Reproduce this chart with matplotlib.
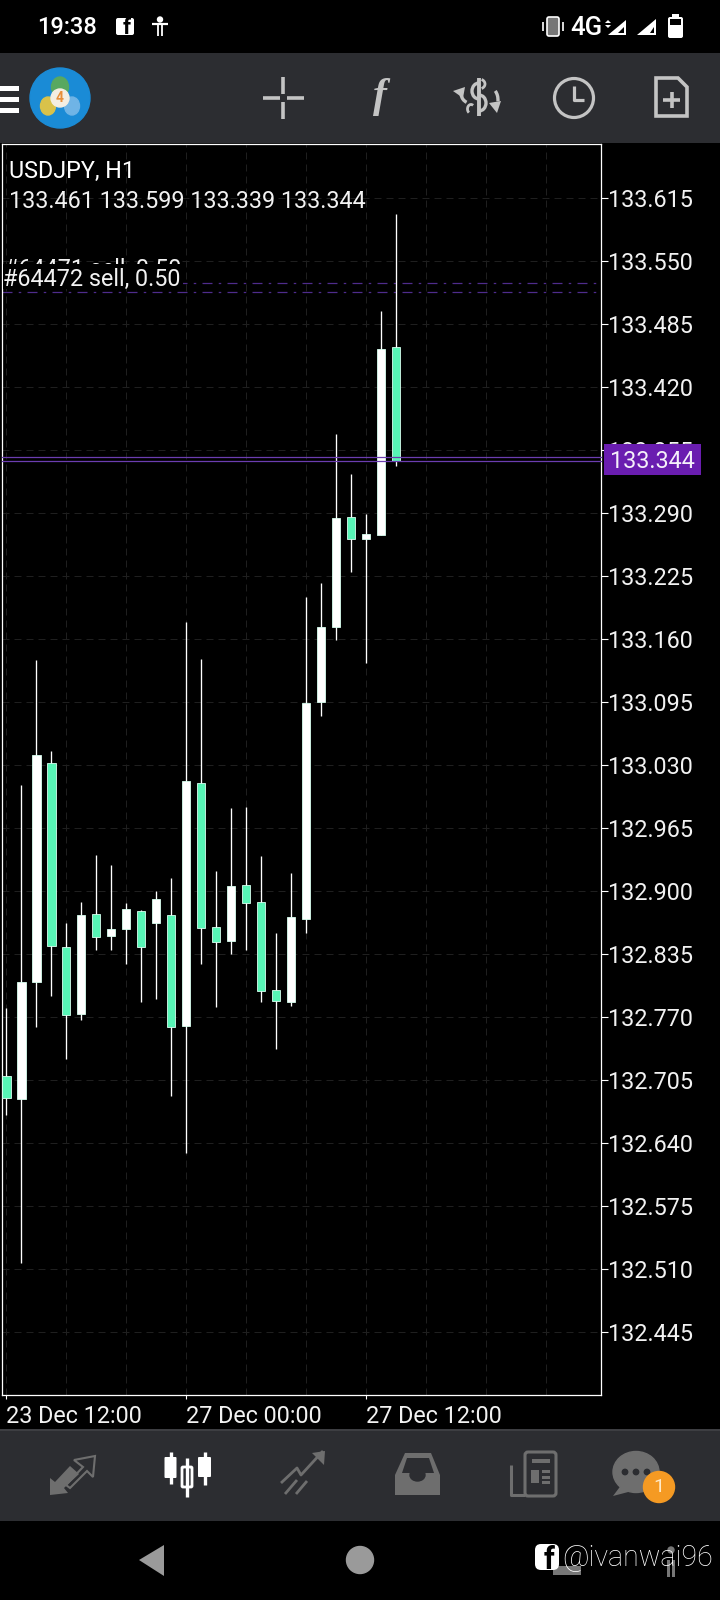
import matplotlib
matplotlib.use("Agg")
import matplotlib.pyplot as plt
from matplotlib.patches import Rectangle, Circle, Polygon, FancyBboxPatch, Arc, Ellipse

plt.rcParams['font.family'] = ['Roboto', 'DejaVu Sans']

# USDJPY H1 candles
opens = [132.709, 132.685, 132.806, 133.032, 132.842, 132.773, 132.876, 132.854, 132.861,
         132.879, 132.867, 132.875, 132.761, 133.012, 132.863, 132.849, 132.906, 132.889,
         132.798, 132.786, 132.871, 133.095, 133.173, 133.286, 133.263, 133.267, 133.461]
highs = [132.779, 133.010, 133.139, 133.045, 132.867, 132.889, 132.937, 132.927, 132.888,
         132.881, 132.900, 132.914, 133.178, 133.140, 132.921, 132.986, 132.987, 132.936,
         132.857, 132.919, 133.203, 133.218, 133.372, 133.330, 133.289, 133.499, 133.599]
lows = [132.669, 132.516, 132.760, 132.792, 132.727, 132.767, 132.839, 132.839, 132.825,
        132.786, 132.789, 132.689, 132.630, 132.825, 132.780, 132.835, 132.839, 132.786,
        132.737, 132.781, 132.857, 133.081, 133.159, 133.229, 133.135, 133.267, 133.339]
closes = [132.686, 132.806, 133.040, 132.843, 132.772, 132.875, 132.853, 132.861, 132.882,
          132.842, 132.892, 132.760, 133.014, 132.862, 132.848, 132.905, 132.888, 132.797,
          132.787, 132.873, 133.094, 133.173, 133.285, 133.263, 133.269, 133.459, 133.344]

price_ticks = [133.615, 133.550, 133.485, 133.420, 133.355, 133.290, 133.225, 133.160, 133.095,
               133.030, 132.965, 132.900, 132.835, 132.770, 132.705, 132.640, 132.575, 132.510,
               132.445]
date_ticks = [-0.05, 11.95, 23.95]
date_labels = ["23 Dec 12:00", "27 Dec 00:00", "27 Dec 12:00"]
grid_ticks = [3.95, 7.95, 15.95, 19.95, 27.95, 31.95, 35.95]
order_prices = [133.528, 133.518]
bid_lines = [133.348, 133.344]

W, H = 720, 1600
BAR = '#2c2d31'
ICON = '#c4c4c4'
GREY = '#6e6e6e'
GREEN = '#57f5b6'
PURPLE = '#6a1db0'
FS = 16.8

fig = plt.figure(figsize=(W / 100, H / 100), dpi=100, facecolor='black')

# whole screen axes in pixels, for the phone chrome around the chart
ui = fig.add_axes([0, 0, 1, 1])
ui.set_xlim(0, W)
ui.set_ylim(H, 0)
ui.axis('off')


def rect(x0, y0, x1, y1, color, **kw):
    ui.add_patch(Rectangle((x0, y0), x1 - x0, y1 - y0, facecolor=color, edgecolor='none', **kw))


def rrect(x0, y0, x1, y1, r, face, edge='none', lw=0):
    ui.add_patch(FancyBboxPatch((x0 + r, y0 + r), x1 - x0 - 2 * r, y1 - y0 - 2 * r,
                                boxstyle="round,pad=%f,rounding_size=%f" % (r, r),
                                facecolor=face, edgecolor=edge, linewidth=lw))


def line(xs, ys, color, lw=2.0):
    ui.plot(xs, ys, color=color, lw=lw, solid_capstyle='butt')


def poly(points, color):
    ui.add_patch(Polygon(points, closed=True, facecolor=color, edgecolor='none'))


# status bar
ui.text(37, 27, "19:38", color='white', fontsize=17, fontweight='medium', va='center')
rrect(116, 18, 134, 35, 2, 'white')
ui.text(127, 28, "f", color='black', fontsize=16, fontweight='bold', ha='center', va='center')
ui.add_patch(Circle((160, 19.5), 2.5, color='white'))
line([152, 168], [24, 24], 'white', 1.6)
line([158, 158], [24, 36], 'white', 1.3)
line([162, 162], [24, 36], 'white', 1.3)
rrect(547, 17, 559, 36, 2, '#777777', 'white', 1.2)
line([543, 543], [22, 31], 'white', 1.2)
line([563, 563], [22, 31], 'white', 1.2)
ui.text(570.5, 28, "4G", color='white', fontsize=18.5, fontweight='medium', va='center')
poly([(608, 35), (626, 20), (626, 35)], 'white')
poly([(618, 33), (624, 27), (624, 33)], 'black')
poly([(605, 23), (608, 20), (611, 23)], 'white')
poly([(605, 25), (608, 28), (611, 25)], 'white')
poly([(637, 35), (656, 19), (656, 35)], 'white')
poly([(650, 33), (654, 27), (654, 33)], 'black')
rrect(668, 17, 683, 38, 2, 'white')
rect(672, 14, 679, 18, 'white')
rect(670, 19, 681, 25, 'black')

# top toolbar
rect(0, 53, W, 143, BAR)
for y0 in [86, 97, 108]:
    rect(0, y0, 19, y0 + 5, 'white')
ui.add_patch(Ellipse((60, 98), 60, 60, color='#1a8bd6'))
ui.add_patch(Ellipse((60, 87), 17, 20, color='#58a860'))
ui.add_patch(Ellipse((48, 106), 15, 18, color='#d9c24a'))
ui.add_patch(Ellipse((72, 106), 15, 18, color='#6fb4e6'))
ui.add_patch(Circle((60, 98), 9, color='#f4eee2'))
ui.text(60, 98, "4", color='#e88f3a', fontsize=10, fontweight='bold', ha='center', va='center')
line([263, 280], [98, 98], ICON, 2.6)
line([287, 304], [98, 98], ICON, 2.6)
line([283, 283], [77, 94], ICON, 2.6)
line([283, 283], [102, 119], ICON, 2.6)
ui.text(380, 97, "f", color=ICON, fontsize=30, family='Liberation Serif', style='italic',
        fontweight='bold', ha='center', va='center')
# dollar sign with the two small arrows
line([479, 479], [78, 116], ICON, 2.8)
ui.add_patch(Arc((479, 91), 14, 16, theta1=90, theta2=270, color=ICON, lw=2.4))
ui.add_patch(Arc((479, 103), 14, 16, theta1=-90, theta2=90, color=ICON, lw=2.4))
ui.add_patch(Arc((479, 84), 12, 10, theta1=-60, theta2=60, color=ICON, lw=2.0))
ui.add_patch(Arc((471, 109), 7, 9, theta1=120, theta2=300, color=ICON, lw=2.0))
ui.add_patch(Arc((470, 93), 18, 20, theta1=110, theta2=170, color=ICON, lw=2.4))
poly([(453, 91), (465, 87), (463, 98)], ICON)
ui.add_patch(Arc((490, 100), 16, 24, theta1=-60, theta2=10, color=ICON, lw=2.4))
poly([(489, 103), (501, 101), (497, 113)], ICON)
ui.add_patch(Circle((574, 98), 19.5, facecolor='none', edgecolor=ICON, lw=2.3))
line([574, 574, 584], [86, 100, 100], ICON, 2.3)
ui.add_patch(Polygon([(656, 78), (678, 78), (687, 87), (687, 116), (656, 116)], closed=True,
                     facecolor='none', edgecolor=ICON, lw=2.6))
line([663, 680], [100, 100], ICON, 2.6)
line([671.5, 671.5], [92, 108], ICON, 2.6)

# bottom navigation
rect(0, 1429, W, 1521, BAR)
rect(0, 1429, W, 1431, '#3d3e42')
poly([(50, 1478), (55, 1482), (70, 1466), (79, 1474), (64, 1488), (68, 1493), (50, 1495)], GREY)
ui.add_patch(Polygon([(95, 1456), (93, 1477), (87, 1471), (70, 1488), (66, 1485), (83, 1467), (74, 1460)],
                     closed=True, facecolor='none', edgecolor=GREY, lw=1.5))
line([170.5, 170.5], [1452, 1484], 'white', 2.4)
rrect(164.5, 1457, 176.5, 1478, 1, 'white')
line([187, 187], [1458, 1497], 'white', 2.4)
rrect(182, 1467, 192, 1487, 1, BAR, 'white', 2)
line([204.5, 204.5], [1452, 1485], 'white', 2.4)
rrect(198, 1457, 211, 1477, 1, 'white')
line([281, 297, 301, 323], [1483, 1468, 1475, 1451], GREY, 2.0)
poly([(312, 1453), (325, 1451), (324, 1465)], GREY)
line([285, 297], [1494, 1480], GREY, 2.0)
line([296, 307], [1494, 1481], GREY, 2.0)
poly([(405, 1453), (431, 1453), (440, 1475), (440, 1495), (395, 1495), (395, 1475)], GREY)
poly([(407, 1458), (429, 1458), (434, 1473), (402, 1473)], BAR)
ui.add_patch(Ellipse((417.5, 1475), 15, 12, color=BAR))
rrect(525, 1452, 556, 1496, 3, BAR, GREY, 2.2)
line([511, 511, 525], [1465, 1495, 1495], GREY, 2.2)
rect(532, 1459, 550, 1463, GREY)
rect(531, 1470, 539, 1483, GREY)
for y0 in [1470, 1476, 1481]:
    rect(542, y0, 550, y0 + 3, GREY)
ui.add_patch(Ellipse((636, 1472), 46, 41, color=GREY))
poly([(613, 1496), (622, 1484), (632, 1491)], GREY)
for cx in [625, 636, 647]:
    ui.add_patch(Circle((cx, 1472), 2.7, color=BAR))
ui.add_patch(Circle((659, 1487), 15.5, color='#f59a23'))
ui.text(659, 1487.5, "1", color='#ffe9c6', fontsize=14, ha='center', va='center')

# android navigation bar and watermark
poly([(139, 1560), (164, 1545), (164, 1576)], '#9a9a9a')
ui.add_patch(Circle((360, 1560), 13.5, color='#9a9a9a'))
rect(553, 1566, 581, 1575, '#777777')
rect(667, 1560, 670, 1577, '#777777')
rect(672, 1560, 675, 1577, '#777777')
ui.add_patch(Circle((671, 1550), 3, color='#777777'))
rrect(535, 1544, 559, 1570, 6, 'white')
ui.text(549, 1560, "f", color='black', fontsize=22, fontweight='bold', ha='center', va='center')
ui.text(562, 1558, "@ivanwai96", color='white', fontsize=20.6, fontweight='light', va='center')

# the chart itself
left, right, top, bottom = 2, 601, 144, 1395
ax = fig.add_axes([left / W, 1 - bottom / H, (right - left) / W, (bottom - top) / H], zorder=2)
ax.set_facecolor('black')
ax.set_xlim(-0.287, 39.65)
ax.set_ylim(132.380, 133.671)

idx = list(range(len(opens)))
ax.vlines(idx, lows, highs, color='white', lw=0.95, zorder=3)
for i, o, c in zip(idx, opens, closes):
    up = c >= o
    ax.bar(i, abs(c - o), bottom=min(o, c), width=0.56, color='white' if up else GREEN,
           edgecolor='#d8fff0', linewidth=0.6, zorder=4)

for p in order_prices:
    ax.axhline(p, color='#4f2c8c', lw=0.9, linestyle=(0, (8, 5, 2, 5)), zorder=2)
for p in bid_lines:
    ax.axhline(p, color='#6b3db0', lw=0.9, zorder=5, clip_on=False)

ax.set_yticks(price_ticks)
ax.set_yticklabels(["%.3f" % p for p in price_ticks])
ax.yaxis.tick_right()
ax.set_xticks(date_ticks)
ax.set_xticklabels(date_labels, ha='left')
ax.set_xticks(grid_ticks, minor=True)
ax.tick_params(axis='y', colors='#f2f2f2', labelsize=FS, length=5, width=0.8, pad=0, color='white')
ax.tick_params(axis='x', which='major', colors='#f2f2f2', labelsize=FS, length=3, width=0.8, pad=4, color='white')
ax.tick_params(axis='x', which='minor', length=0)
ax.grid(True, which='both', color='#1f1f1f', lw=0.72, linestyle=(0, (7, 5)), zorder=1)
ax.set_axisbelow(True)
for s in ax.spines.values():
    s.set_color('white')
    s.set_linewidth(0.9)

# chart labels, placed in axes pixels from the top left corner
ax2px = lambda x, y: ((x - left) / (right - left), 1 - (y - top) / (bottom - top))
tx, ty = ax2px(9, 171)
ax.text(tx, ty, "USDJPY, H1", transform=ax.transAxes, color='white', fontsize=FS, va='center', zorder=6)
tx, ty = ax2px(9, 201)
ax.text(tx, ty, " ".join("%.3f" % v[-1] for v in [opens, highs, lows, closes]), transform=ax.transAxes,
        color='#f2f2f2', fontsize=FS, va='center', zorder=6)
tx, ty = ax2px(3.5, 269)
ax.text(tx, ty, "#64471 sell, 0.50", transform=ax.transAxes, color='#f2f2f2', fontsize=FS, va='center', zorder=6)
# the newer order label sits on its own black plate, which hides most of the older one
bx0, by1 = ax2px(3, 264)
bx1, by0 = ax2px(183, 289)
ax.add_patch(Rectangle((bx0, by0), bx1 - bx0, by1 - by0, transform=ax.transAxes, facecolor='black',
                       edgecolor='none', zorder=6.5))
tx, ty = ax2px(3, 279)
ax.text(tx, ty, "#64472 sell, 0.50", transform=ax.transAxes, color='#f2f2f2', fontsize=FS, va='center', zorder=7)

# bid price tag over the 133.355 tick label
fig.patches.append(Rectangle((604 / W, 1 - 474.5 / H), 97 / W, 30.5 / H, transform=fig.transFigure,
                             facecolor=PURPLE, edgecolor='none', zorder=10))
fig.text(652.5 / W, 1 - 461 / H, "%.3f" % closes[-1], color='#f5f0fa', fontsize=FS, ha='center', va='center', zorder=11)

fig.savefig("out.png", dpi=100, facecolor='black')
